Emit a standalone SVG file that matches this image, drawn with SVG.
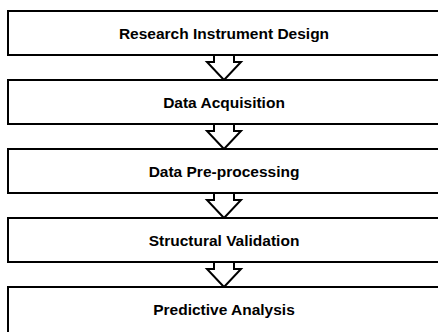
<svg xmlns="http://www.w3.org/2000/svg" width="438" height="332" viewBox="0 0 438 332">
<style>
.box{fill:#fff;stroke:#000;stroke-width:2}
.arr{fill:#fff;stroke:#000;stroke-width:2;stroke-linejoin:miter}
.lbl{font-family:"Liberation Sans",Arial,sans-serif;font-weight:bold;font-size:15.5px;fill:#000;text-anchor:middle}
</style>
<rect width="438" height="332" fill="#fff"/>
<g id="connectors">
<path class="arr" d="M214,55 V62 H207 L224,80 L241,62 H234 V55"/>
<path class="arr" d="M214,124 V131 H207 L224,149 L241,131 H234 V124"/>
<path class="arr" d="M214,193 V200 H207 L224,218 L241,200 H234 V193"/>
<path class="arr" d="M214,262 V269 H207 L224,287 L241,269 H234 V262"/>
</g>
<g id="node1"><rect class="box" x="8" y="11" width="432" height="44"/><text class="lbl" x="224" y="38.5">Research Instrument Design</text></g>
<g id="node2"><rect class="box" x="8" y="80" width="432" height="44"/><text class="lbl" x="224" y="107.5">Data Acquisition</text></g>
<g id="node3"><rect class="box" x="8" y="149" width="432" height="44"/><text class="lbl" x="224" y="176.5">Data Pre-processing</text></g>
<g id="node4"><rect class="box" x="8" y="218" width="432" height="44"/><text class="lbl" x="224" y="245.5">Structural Validation</text></g>
<g id="node5"><rect class="box" x="8" y="287" width="432" height="50"/><text class="lbl" x="224" y="314.5">Predictive Analysis</text></g>
</svg>
